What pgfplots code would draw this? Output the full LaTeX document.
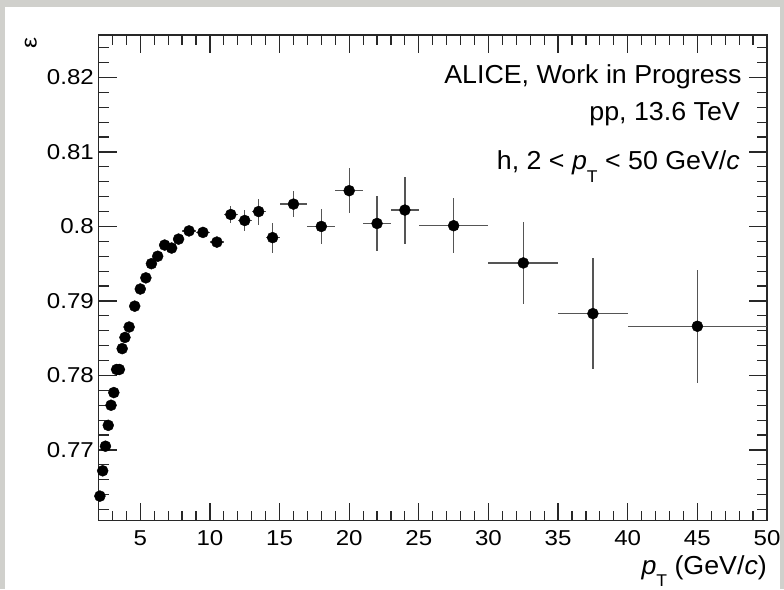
\documentclass[border=0pt]{standalone}
\usepackage{fontspec}
\setmainfont{Liberation Sans}[FakeStretch=1.12]
\newfontfamily\annfont{Liberation Sans}[FakeStretch=1.03]
\usepackage{pgfplots}
\usepackage{pgfplotstable}
\pgfplotsset{compat=1.18}
\definecolor{bgray}{RGB}{208,208,204}
\definecolor{axgray}{RGB}{40,40,40}
\definecolor{errgray}{RGB}{85,85,85}

\pgfplotstableread{
x y ex ey
2.1 0.7638 0.1 0.0001
2.3 0.7672 0.1 0.0001
2.5 0.7705 0.1 0.0001
2.7 0.7733 0.1 0.0001
2.9 0.7760 0.1 0.0001
3.1 0.7777 0.1 0.0001
3.3 0.7808 0.1 0.0001
3.5 0.7808 0.1 0.0001
3.7 0.7836 0.1 0.0001
3.9 0.7851 0.1 0.0002
4.2 0.7865 0.2 0.0002
4.6 0.7893 0.2 0.0002
5.0 0.7916 0.2 0.0002
5.4 0.7931 0.2 0.0002
5.8 0.7950 0.2 0.0002
6.25 0.7960 0.25 0.0003
6.75 0.7975 0.25 0.0003
7.25 0.7971 0.25 0.0003
7.75 0.7983 0.25 0.0003
8.5 0.7994 0.5 0.0004
9.5 0.7992 0.5 0.0005
10.5 0.7979 0.5 0.0007
11.5 0.8016 0.5 0.0012
12.5 0.8008 0.5 0.00145
13.5 0.8020 0.5 0.00175
14.5 0.7985 0.5 0.0020
16 0.8030 1 0.0017
18 0.8000 1 0.0023
20 0.8048 1 0.0030
22 0.8004 1 0.0037
24 0.8022 1 0.0045
27.5 0.8001 2.5 0.0037
32.5 0.7951 2.5 0.0055
37.5 0.7883 2.5 0.0074
45 0.7866 5 0.0076
}\effdata

\begin{document}
\begin{tikzpicture}[x=1pt,y=1pt]
\fill[bgray] (0,0) rectangle (784,589);
\fill[white] (5,0) rectangle (780,582);
\begin{axis}[
  at={(98.5pt,68.3pt)}, anchor=south west,
  scale only axis, width=668.5pt, height=485.7pt,
  xmin=2, xmax=50, ymin=0.7605, ymax=0.8257,
  xtick={5,10,15,20,25,30,35,40,45,50},
  xticklabels={5,10,15,20,25,30,35,40,45,50},
  minor xtick={3,...,49},
  ytick={0.77,0.78,0.79,0.8,0.81,0.82},
  yticklabels={0.77,0.78,0.79,0.8,0.81,0.82},
  minor ytick={0.762,0.764,0.766,0.768,0.772,0.774,0.776,0.778,0.782,0.784,0.786,0.788,0.792,0.794,0.796,0.798,0.802,0.804,0.806,0.808,0.812,0.814,0.816,0.818,0.822,0.824},
  xtick pos=both, ytick pos=both,
  xticklabel pos=lower, yticklabel pos=left,
  tick align=inside,
  major tick length=18pt, minor tick length=10pt,
  every tick/.style={line width=1.2pt, color=axgray},
  axis line style={line width=1.4pt, color=axgray},
  xticklabel style={font=\fontsize{21.5}{24}\selectfont, inner sep=0pt, yshift=-9.5pt},
  yticklabel style={font=\fontsize{21.5}{24}\selectfont, inner sep=0pt, xshift=-4.5pt},
  /pgf/number format/assume math mode=true,
  clip=false,
]
\addplot[only marks, mark=none, forget plot,
  error bars/.cd, x dir=both, x explicit, y dir=both, y explicit,
  error mark=none,
  error bar style={line width=1.3pt, color=errgray}]
  table[x=x, y=y, x error=ex, y error=ey] {\effdata};
\addplot[only marks, mark=*, mark size=5.5pt, mark options={fill=black, draw=black}]
  table[x=x, y=y] {\effdata};
\end{axis}
\node[anchor=base east, inner sep=0pt, font=\annfont\fontsize{26}{30}\selectfont] at (741.7,505) {ALICE, Work in Progress};
\node[anchor=base east, inner sep=0pt, font=\annfont\fontsize{26}{30}\selectfont] at (740,468) {pp, 13.6 TeV};
\node[anchor=base east, inner sep=0pt, font=\annfont\fontsize{26}{30}\selectfont] at (740,419) {h, 2 < \textit{p}\raisebox{-13pt}{\fontsize{17}{19}\selectfont T} < 50 GeV/\textit{c}};
\node[anchor=base east, inner sep=0pt, font=\annfont\fontsize{26}{30}\selectfont] at (767,15) {\textit{p}\raisebox{-12pt}{\fontsize{17}{19}\selectfont T} (GeV/\textit{c})};
\node[rotate=90, anchor=base east, inner sep=0pt, font=\fontsize{22}{24}\selectfont] at (36.7,552) {ε};
\pgfresetboundingbox
\path (0,0) rectangle (784,589);
\end{tikzpicture}
\end{document}
